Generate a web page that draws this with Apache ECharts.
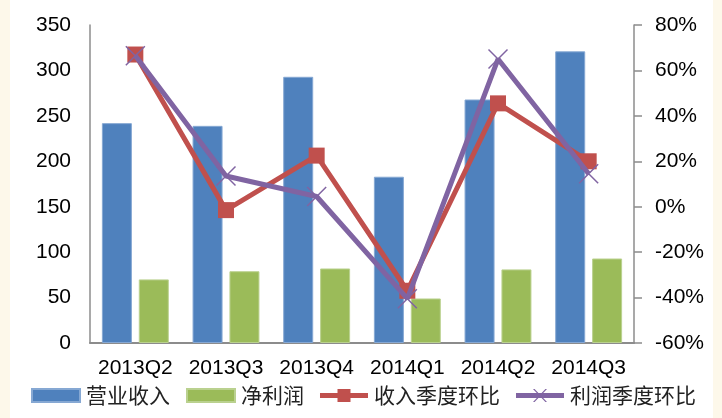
<!DOCTYPE html>
<html>
<head>
<meta charset="utf-8">
<title>营业收入与净利润</title>
<style>
  html, body { margin: 0; padding: 0; background: #ffffff; }
  #chart { width: 722px; height: 418px; }
</style>
<script src="https://cdn.jsdelivr.net/npm/echarts@6.0.0/dist/echarts.min.js"></script>
</head>
<body>
<div id="chart"></div>
<script>
// Quarterly revenue / net profit (left axis) and quarter-on-quarter change in % (right axis)
const quarters = ['2013Q2', '2013Q3', '2013Q4', '2014Q1', '2014Q2', '2014Q3'];
const revenue = [242, 239, 293, 183, 268, 321];
const netProfit = [70, 79, 82, 49, 81, 93];
const revenueQoQ = [67, -1.5, 22.5, -37, 45.5, 20];
const profitQoQ = [66.5, 13.5, 4.5, -40.5, 65, 14.5];

const seriesNames = ['营业收入', '净利润', '收入季度环比', '利润季度环比'];
const leftTicks = { min: 0, max: 350, step: 50 };
const rightTicks = { min: -60, max: 80, step: 20 };

const axisGray = '#8c8c8c';
const labelFont = { color: '#000', fontFamily: 'Liberation Sans, Arial, sans-serif', fontSize: 21 };
const cream = '#fdf8ea';
const red = '#c0504d';
const purple = '#8064a2';

// Legend icons for the line series: a thick stroke with the series marker in the middle
const iconLineSquare = 'path://M0,4H17.5V0H30.5V4H48V9H30.5V13H17.5V9H0Z';
const iconLineCross = 'path://M0,4H48V9H0Z M17,0L18.6,0L31,13L29.4,13Z M29.4,0L31,0L18.6,13L17,13Z';

const chart = echarts.init(document.getElementById('chart'), null, { renderer: 'canvas' });

chart.setOption({
  backgroundColor: '#ffffff',
  animation: false,
  graphic: [
    { type: 'rect', left: 0, top: 0, shape: { width: 10, height: 418 }, style: { fill: cream }, silent: true },
    { type: 'rect', left: 713, top: 0, shape: { width: 9, height: 418 }, style: { fill: cream }, silent: true }
  ],
  grid: { left: 90, right: 88, top: 25, bottom: 75, containLabel: false },
  legend: {
    left: 26,
    top: 380,
    itemWidth: 48,
    itemHeight: 13,
    itemGap: 16,
    textStyle: { fontFamily: 'Noto Sans CJK SC', fontSize: 21, color: '#222', padding: [0, 0, 0, 1] },
    data: [
      { name: seriesNames[0], icon: 'rect' },
      { name: seriesNames[1], icon: 'rect' },
      { name: seriesNames[2], icon: iconLineSquare, itemStyle: { color: red, borderWidth: 0 } },
      { name: seriesNames[3], icon: iconLineCross, itemStyle: { color: purple, borderWidth: 0 } }
    ]
  },
  xAxis: {
    type: 'category',
    data: quarters,
    axisLine: { show: true, lineStyle: { color: axisGray, width: 2 } },
    axisTick: { show: false },
    axisLabel: Object.assign({ margin: 15, interval: 0 }, labelFont),
    splitLine: { show: false }
  },
  yAxis: [
    {
      type: 'value',
      min: leftTicks.min,
      max: leftTicks.max,
      interval: leftTicks.step,
      axisLine: { show: true, lineStyle: { color: axisGray, width: 1.5 } },
      axisTick: { show: false },
      axisLabel: Object.assign({ margin: 19 }, labelFont),
      splitLine: { show: false }
    },
    {
      type: 'value',
      position: 'right',
      min: rightTicks.min,
      max: rightTicks.max,
      interval: rightTicks.step,
      axisLine: { show: true, lineStyle: { color: axisGray, width: 1.5 } },
      axisTick: { show: true, inside: false, length: 8, lineStyle: { color: axisGray, width: 1.5 } },
      axisLabel: Object.assign({ margin: 21, formatter: '{value}%' }, labelFont),
      splitLine: { show: false }
    }
  ],
  series: [
    {
      name: seriesNames[0],
      type: 'bar',
      data: revenue,
      barWidth: 30,
      barGap: '23%',
      itemStyle: { color: '#4f81bd', borderColor: '#86a8d3', borderWidth: 1 },
      z: 2
    },
    {
      name: seriesNames[1],
      type: 'bar',
      data: netProfit,
      barWidth: 30,
      itemStyle: { color: '#9bbb59', borderColor: '#bad18f', borderWidth: 1 },
      z: 2
    },
    {
      name: seriesNames[2],
      type: 'line',
      yAxisIndex: 1,
      data: revenueQoQ,
      symbol: 'rect',
      symbolSize: 16,
      lineStyle: { color: red, width: 5 },
      itemStyle: { color: red, borderColor: red, borderWidth: 0 },
      z: 3
    },
    {
      name: seriesNames[3],
      type: 'line',
      yAxisIndex: 1,
      data: profitQoQ,
      symbol: 'path://M0,0L10,10M10,0L0,10',
      symbolSize: 19,
      lineStyle: { color: purple, width: 5 },
      itemStyle: { color: 'rgba(0,0,0,0)', borderColor: purple, borderWidth: 1.5 },
      z: 4
    }
  ]
});
</script>
</body>
</html>
